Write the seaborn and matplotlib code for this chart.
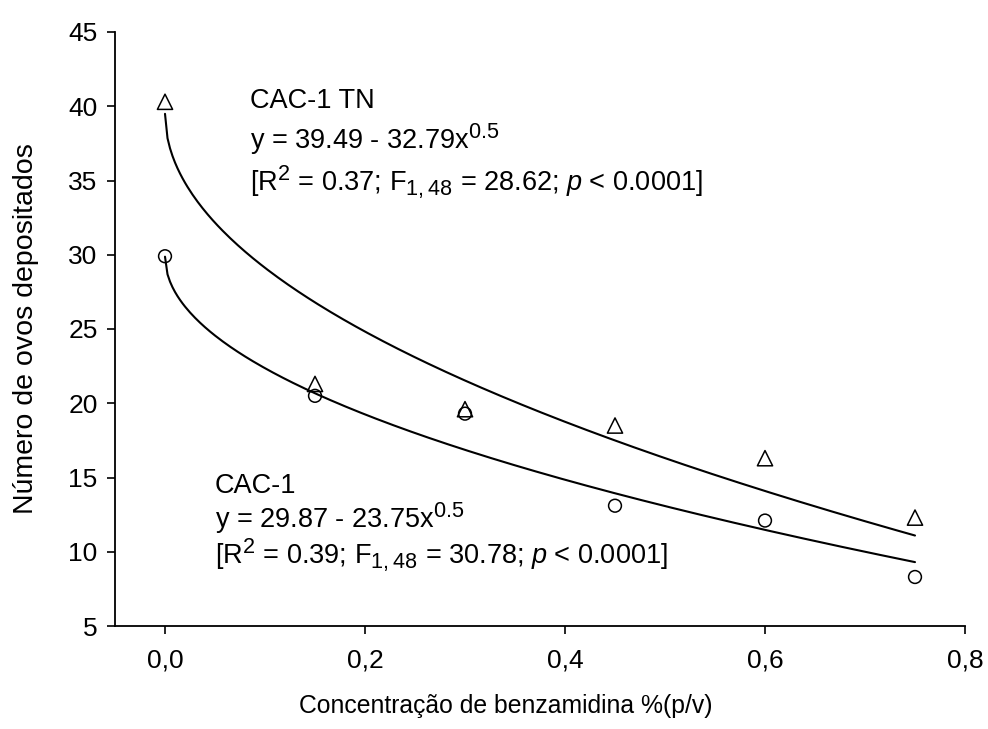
import numpy as np
import pandas as pd
import matplotlib
matplotlib.use("Agg")
import matplotlib.pyplot as plt
import matplotlib._mathtext as _mt
import seaborn as sns
from matplotlib.ticker import FuncFormatter

# Data
concentracao = [0.0, 0.15, 0.30, 0.45, 0.60, 0.75]
ovos_tn = [40.3, 21.3, 19.6, 18.5, 16.3, 12.3]
ovos_cac1 = [29.9, 20.5, 19.3, 13.1, 12.1, 8.3]
grupos = ["CAC-1 TN", "CAC-1"]
# fitted models: y = a - b * x^0.5
coef_tn = (39.49, 32.79)
coef_cac1 = (29.87, 23.75)
x_ticks = [0.0, 0.2, 0.4, 0.6, 0.8]
y_ticks = [5, 10, 15, 20, 25, 30, 35, 40, 45]

sns.set_style("ticks")
plt.rcParams["font.family"] = ["Liberation Sans", "DejaVu Sans"]
plt.rcParams["mathtext.fontset"] = "custom"
plt.rcParams["mathtext.rm"] = "Liberation Sans"
plt.rcParams["mathtext.it"] = "Liberation Sans:italic"
for k in ["text.color", "axes.labelcolor", "xtick.color", "ytick.color", "axes.edgecolor"]:
    plt.rcParams[k] = "black"
_mt.SHRINK_FACTOR = 0.8

df = pd.DataFrame({
    "x": concentracao * 2,
    "y": ovos_tn + ovos_cac1,
    "grupo": [grupos[0]] * len(concentracao) + [grupos[1]] * len(concentracao),
})

xf = np.linspace(0, max(concentracao), 300)
fit = pd.DataFrame({
    "x": np.concatenate([xf, xf]),
    "y": np.concatenate([coef_tn[0] - coef_tn[1] * np.sqrt(xf),
                         coef_cac1[0] - coef_cac1[1] * np.sqrt(xf)]),
    "grupo": [grupos[0]] * len(xf) + [grupos[1]] * len(xf),
})

fig = plt.figure(figsize=(9.88, 7.29), dpi=100)
ax = fig.add_axes([115 / 988, 1 - 626 / 729, (965 - 115) / 988, (626 - 32) / 729])

sns.lineplot(data=fit, x="x", y="y", units="grupo", estimator=None,
             color="black", linewidth=1.5, ax=ax, legend=False)
sns.scatterplot(data=df[df.grupo == grupos[0]], x="x", y="y", marker="^", s=120,
                facecolor="none", edgecolor="black", linewidth=1.1, ax=ax, legend=False, zorder=3)
sns.scatterplot(data=df[df.grupo == grupos[1]], x="x", y="y", marker="o", s=85,
                facecolor="none", edgecolor="black", linewidth=1.1, ax=ax, legend=False, zorder=3)

ax.set_xlim(-0.05, 0.8)
ax.set_ylim(5, 45)
ax.set_xticks(x_ticks)
ax.set_yticks(y_ticks)
ax.xaxis.set_major_formatter(FuncFormatter(lambda v, p: f"{v:.1f}".replace(".", ",")))
for s in ["top", "right"]:
    ax.spines[s].set_visible(False)
for s in ["left", "bottom"]:
    ax.spines[s].set_linewidth(1.3)
    ax.spines[s].set_color("black")
ax.tick_params(axis="both", direction="out", length=5.5, width=1.2, colors="black", labelsize=19)
ax.tick_params(axis="y", pad=7)
ax.tick_params(axis="x", pad=11)

ax.set_xlabel("Concentração de benzamidina %(p/v)", fontsize=17.8)
ax.xaxis.set_label_coords(0.46, -0.115)
ax.set_ylabel("Número de ovos depositados", fontsize=20.5, labelpad=21)

fs = 19.5
ax.text(0.085, 39.88, "CAC-1 TN", fontsize=fs, va="baseline", ha="left")
ax.text(0.085, 37.12, r"y = 39.49 - 32.79x$^{0.5}$", fontsize=fs, va="baseline", ha="left")
ax.text(0.085, 34.36, r"[R$^{2}$ = 0.37; F$_{1,48}$ = 28.62; $\mathit{p}$ < 0.0001]", fontsize=fs, va="baseline", ha="left")

ax.text(0.05, 13.96, "CAC-1", fontsize=fs, va="baseline", ha="left")
ax.text(0.05, 11.60, r"y = 29.87 - 23.75x$^{0.5}$", fontsize=fs, va="baseline", ha="left")
ax.text(0.05, 9.18, r"[R$^{2}$ = 0.39; F$_{1,48}$ = 30.78; $\mathit{p}$ < 0.0001]", fontsize=fs, va="baseline", ha="left")

fig.savefig("out.png", dpi=100)
